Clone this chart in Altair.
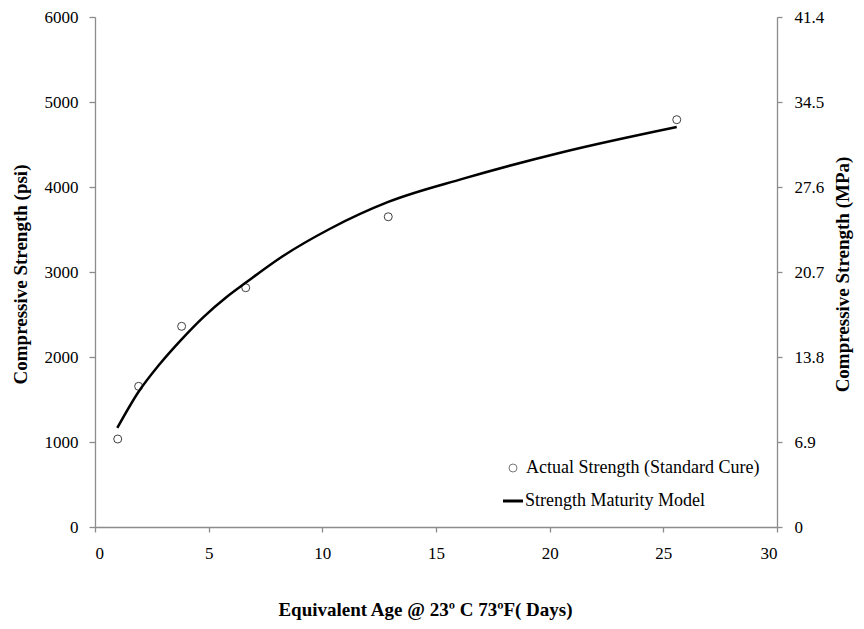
import altair as alt
import pandas as pd

# Observed data (Actual Strength, Standard Cure)
obs_age = [1.0, 1.92, 3.81, 6.63, 12.9, 25.59]
obs_psi = [1035, 1655, 2361, 2815, 3650, 4792]

# Strength maturity model curve
mod_age = [0.98, 1.91, 2.86, 3.81, 4.77, 5.79, 6.67, 8.14, 10.34, 12.9, 16.2, 20.6, 25.59]
mod_psi = [1165, 1588, 1921, 2208, 2470, 2706, 2882, 3165, 3509, 3824, 4098, 4412, 4706]

# Axis ticks
x_ticks = [0, 5, 10, 15, 20, 25, 30]
psi_ticks = [0, 1000, 2000, 3000, 4000, 5000, 6000]
mpa_ticks = [0, 6.9, 13.8, 20.7, 27.6, 34.5, 41.4]

# Legend labels
legend_labels = ["Actual Strength (Standard Cure)", "Strength Maturity Model"]

obs = pd.DataFrame({"age": obs_age, "psi": obs_psi})
mod = pd.DataFrame({"age": mod_age, "psi": mod_psi})
mpa = pd.DataFrame({"mpa": mpa_ticks, "age": [0] * len(mpa_ticks)})
leg = pd.DataFrame({"label": legend_labels})

FONT = "Liberation Serif"
AX = "#8c8c8c"

x_scale = alt.Scale(domain=[0, 30], nice=False)
x_enc = alt.X("age:Q", scale=x_scale,
              axis=alt.Axis(values=x_ticks, title="Equivalent Age @ 23º C 73ºF( Days)",
                            tickSize=5, labelPadding=13, format="d",
                            titleX=330, titleY=82, titleAlign="center",
                            titleBaseline="middle"))
y_left = alt.Y("psi:Q", scale=alt.Scale(domain=[0, 6000], nice=False),
               axis=alt.Axis(values=psi_ticks, title="Compressive Strength (psi)",
                             orient="left", tickSize=6, labelPadding=11, format="d",
                             titleX=-75, titleY=257, titleAlign="center",
                             titleBaseline="middle", titleAngle=270))

points = alt.Chart(obs).mark_point(filled=False, size=64, stroke="#404040",
                                   strokeWidth=1, fill="white", fillOpacity=1).encode(
    x=x_enc, y=y_left)

line = alt.Chart(mod).mark_line(interpolate="monotone", strokeWidth=2.5,
                                color="black").encode(x=x_enc, y=y_left)

# manual legend
leg_pt = alt.Chart(leg).transform_filter(alt.datum.label == legend_labels[0]).mark_point(
    filled=False, size=64, stroke="#404040", strokeWidth=1).encode(
    x=alt.value(418), y=alt.value(451))
leg_pt_txt = alt.Chart(leg).transform_filter(alt.datum.label == legend_labels[0]).mark_text(
    align="left", baseline="middle", font=FONT, fontSize=18, color="black").encode(
    x=alt.value(431), y=alt.value(451), text="label:N")
leg_ln = alt.Chart(leg).transform_filter(alt.datum.label == legend_labels[1]).mark_rule(
    strokeWidth=3, color="black").encode(
    x=alt.value(408), x2=alt.value(428), y=alt.value(484))
leg_ln_txt = alt.Chart(leg).transform_filter(alt.datum.label == legend_labels[1]).mark_text(
    align="left", baseline="middle", font=FONT, fontSize=18, color="black").encode(
    x=alt.value(430), y=alt.value(484), text="label:N")

left_layer = alt.layer(points, line, leg_pt, leg_pt_txt, leg_ln, leg_ln_txt)

right = alt.Chart(mpa).mark_point(opacity=0).encode(
    x=alt.X("age:Q", scale=x_scale),
    y=alt.Y("mpa:Q", scale=alt.Scale(domain=[0, 41.4], nice=False),
            axis=alt.Axis(values=mpa_ticks, title="Compressive Strength (MPa)",
                          orient="right", tickSize=5, labelPadding=12, format=".1~f",
                          titleX=65, titleY=257, titleAlign="center",
                          titleBaseline="middle", titleAngle=270)),
)

chart = alt.layer(left_layer, right).resolve_scale(
    y="independent"
).properties(
    width=682, height=510,
    autosize=alt.AutoSizeParams(type="none"),
    padding={"left": 87, "top": 9, "right": 79, "bottom": 94},
).configure_view(stroke=None).configure_axis(
    grid=False, domainColor=AX, tickColor=AX, domainWidth=1.3, tickWidth=1.3,
    labelFont=FONT, labelFontSize=17, labelColor="black",
    titleFont=FONT, titleFontSize=19, titleFontWeight="bold", titleColor="black",
)

chart.save("out.html", embed_options={"renderer": "svg", "actions": False})
